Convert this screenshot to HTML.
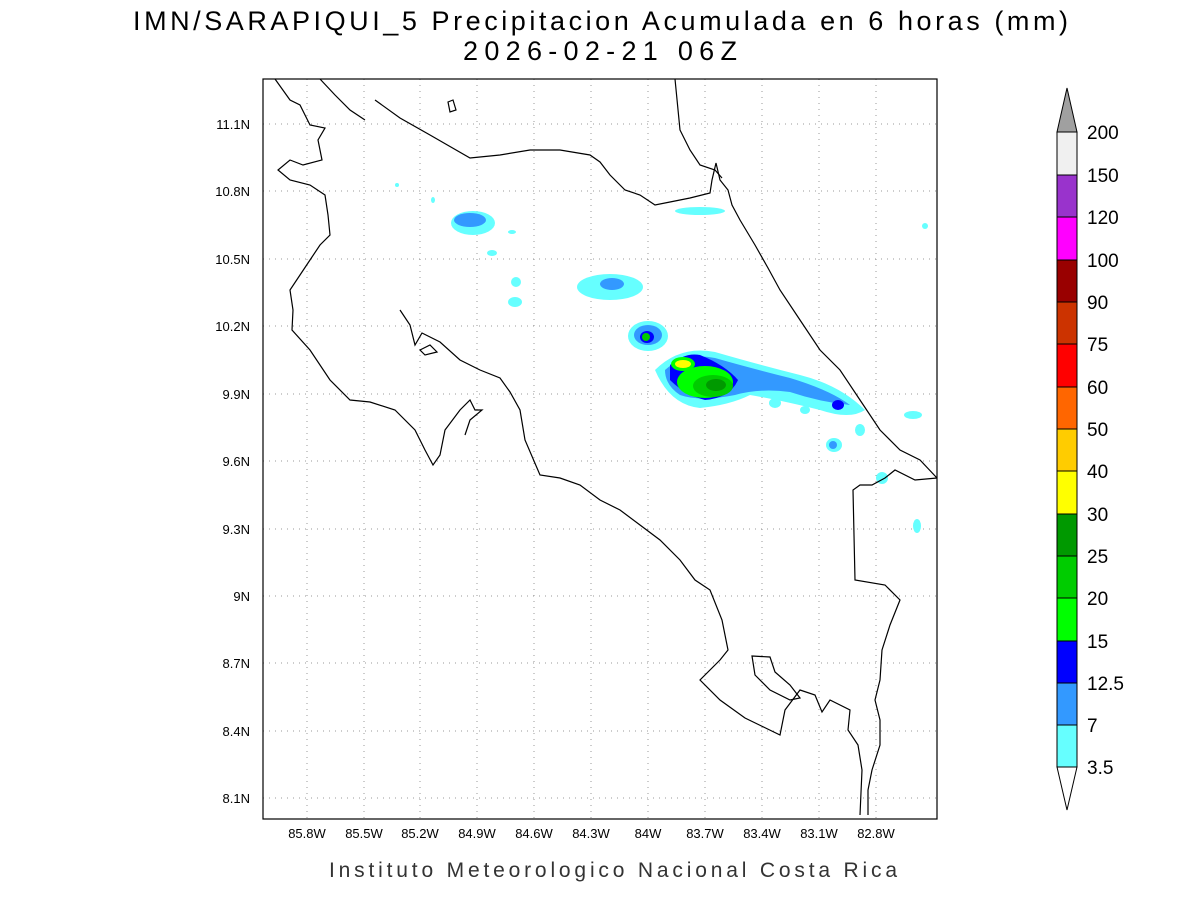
<!DOCTYPE html>
<html><head><meta charset="utf-8"><style>
body{margin:0;background:#fff;width:1200px;height:900px;overflow:hidden}
svg text{font-family:"Liberation Sans",sans-serif}
</style></head><body>
<svg width="1200" height="900" viewBox="0 0 1200 900" xmlns="http://www.w3.org/2000/svg">
<rect width="1200" height="900" fill="#fff"/>
<text x="133" y="30" font-size="27" textLength="935" lengthAdjust="spacing" fill="#000">IMN/SARAPIQUI_5 Precipitacion Acumulada en 6 horas (mm)</text>
<text x="463" y="60" font-size="27" textLength="274" lengthAdjust="spacing" fill="#000">2026-02-21 06Z</text>
<!-- grid -->
<g stroke="#999" stroke-width="1" stroke-dasharray="1,5">
<line x1="307" y1="79" x2="307" y2="819"/><line x1="364" y1="79" x2="364" y2="819"/><line x1="420" y1="79" x2="420" y2="819"/><line x1="477" y1="79" x2="477" y2="819"/><line x1="534" y1="79" x2="534" y2="819"/><line x1="591" y1="79" x2="591" y2="819"/><line x1="648" y1="79" x2="648" y2="819"/><line x1="705" y1="79" x2="705" y2="819"/><line x1="762" y1="79" x2="762" y2="819"/><line x1="819" y1="79" x2="819" y2="819"/><line x1="876" y1="79" x2="876" y2="819"/>
<line x1="263" y1="124" x2="937" y2="124"/><line x1="263" y1="191" x2="937" y2="191"/><line x1="263" y1="259" x2="937" y2="259"/><line x1="263" y1="326" x2="937" y2="326"/><line x1="263" y1="394" x2="937" y2="394"/><line x1="263" y1="461" x2="937" y2="461"/><line x1="263" y1="529" x2="937" y2="529"/><line x1="263" y1="596" x2="937" y2="596"/><line x1="263" y1="663" x2="937" y2="663"/><line x1="263" y1="731" x2="937" y2="731"/><line x1="263" y1="798" x2="937" y2="798"/>
</g>
<!-- precip -->
<g>
<ellipse cx="473" cy="223" rx="22" ry="12" fill="#66ffff"/><ellipse cx="470" cy="220" rx="16" ry="7" fill="#3399ff"/>
<ellipse cx="492" cy="253" rx="5" ry="3" fill="#66ffff"/><ellipse cx="515" cy="302" rx="7" ry="5" fill="#66ffff"/><ellipse cx="516" cy="282" rx="5" ry="5" fill="#66ffff"/>
<ellipse cx="700" cy="211" rx="25" ry="4" fill="#66ffff"/>
<ellipse cx="610" cy="287" rx="33" ry="13" fill="#66ffff"/><ellipse cx="612" cy="284" rx="12" ry="6" fill="#3399ff"/>
<ellipse cx="648" cy="336" rx="20" ry="15" fill="#66ffff"/><ellipse cx="648" cy="335" rx="14" ry="10" fill="#3399ff"/><ellipse cx="647" cy="337" rx="7" ry="6" fill="#0000ff"/><ellipse cx="646" cy="337" rx="4" ry="4" fill="#00cc00"/>
<path d="M655 370 Q680 345 715 352 Q760 365 800 375 Q840 385 865 410 Q850 420 820 410 Q780 400 750 395 Q730 405 700 408 Q670 405 655 370Z" fill="#66ffff"/>
<path d="M665 370 Q685 352 715 358 Q750 368 790 378 Q830 390 850 405 Q820 402 790 392 Q760 388 735 395 Q700 402 680 395 Q665 385 665 370Z" fill="#3399ff"/>
<path d="M670 365 Q685 352 700 355 Q725 365 738 380 Q730 398 705 400 Q685 395 670 380Z" fill="#0000ff"/>
<ellipse cx="705" cy="382" rx="28" ry="16" fill="#00ff00"/><ellipse cx="713" cy="386" rx="20" ry="11" fill="#00cc00"/><ellipse cx="716" cy="385" rx="10" ry="6" fill="#009900"/>
<ellipse cx="683" cy="364" rx="12" ry="7" fill="#00ff00"/><ellipse cx="683" cy="364" rx="8" ry="4" fill="#ffff00"/>
<ellipse cx="838" cy="405" rx="6" ry="5" fill="#0000ff"/>
<ellipse cx="834" cy="445" rx="8" ry="7" fill="#66ffff"/><ellipse cx="833" cy="445" rx="4" ry="4" fill="#3399ff"/>
<ellipse cx="860" cy="430" rx="5" ry="6" fill="#66ffff"/><ellipse cx="913" cy="415" rx="9" ry="4" fill="#66ffff"/>
<ellipse cx="882" cy="478" rx="6" ry="6" fill="#66ffff"/><ellipse cx="917" cy="526" rx="4" ry="7" fill="#66ffff"/>
<ellipse cx="775" cy="403" rx="6" ry="5" fill="#66ffff"/><ellipse cx="805" cy="410" rx="5" ry="4" fill="#66ffff"/>
<ellipse cx="433" cy="200" rx="2" ry="3" fill="#66ffff"/><ellipse cx="397" cy="185" rx="2" ry="2" fill="#66ffff"/>
<ellipse cx="512" cy="232" rx="4" ry="2" fill="#66ffff"/><ellipse cx="925" cy="226" rx="3" ry="3" fill="#66ffff"/>
</g>
<!-- coast -->
<g fill="none" stroke="#000" stroke-width="1.2">
<path d="M275 79 L290 100 L300 105 L310 125 L325 128 L318 140 L322 160 L303 165 L290 160 L278 170 L290 180 L310 185 L325 195 L328 215 L330 235 L320 245 L310 260 L300 275 L290 290 L293 310 L292 330 L310 350 L330 380 L350 400 L370 402 L395 410 L415 430 L425 450 L433 465 L440 455 L445 430 L460 410 L470 400 L475 410 L482 410 L470 420 L465 435"/>
<path d="M400 310 L410 325 L415 345 L422 333 L440 342 L460 360 L480 370 L500 378 L510 392 L520 410 L525 440 L540 475 L560 478 L580 485 L600 500 L620 510 L640 525 L660 540 L680 560 L695 580 L710 590 L722 620 L728 650 L720 660 L700 680 L720 700 L745 718 L780 735 L785 710 L800 690 L815 695 L822 712 L830 700 L850 710 L848 730 L858 745 L862 770 L860 815"/>
<path d="M868 815 L868 790 L872 770 L880 745 L880 720 L875 700 L880 680 L882 650 L890 625 L900 600 L885 585 L855 580 L853 490 L860 485 L872 485 L885 478 L895 470 L915 480 L937 478"/>
<path d="M937 478 L920 460 L900 450 L880 430 L860 400 L840 370 L820 350 L800 320 L780 290 L768 268 L755 245 L740 220 L732 205 L728 190 L720 180 L716 163 L712 180 L710 193 L690 198 L670 202 L655 205 L640 195 L625 190 L610 175 L600 162 L590 155 L560 150 L530 150 L500 155 L470 158 L430 135 L400 118 L375 100"/>
<path d="M320 79 L335 95 L350 110 L365 120"/>
<path d="M675 79 L680 130 L690 150 L700 165 L715 170 L722 178"/>
<path d="M752 656 L770 657 L775 672 L790 685 L800 698 L790 700 L770 690 L755 675 Z"/>
<path d="M420 350 L430 345 L437 352 L425 355 Z"/>
<path d="M448 102 L453 100 L456 110 L450 112 Z"/>
</g>
<rect x="263" y="79" width="674" height="740" fill="none" stroke="#000" stroke-width="1.2"/>
<!-- axis labels -->
<g font-size="13" fill="#000" text-anchor="end">
<text x="250" y="129">11.1N</text><text x="250" y="196">10.8N</text><text x="250" y="264">10.5N</text><text x="250" y="331">10.2N</text><text x="250" y="399">9.9N</text><text x="250" y="466">9.6N</text><text x="250" y="534">9.3N</text><text x="250" y="601">9N</text><text x="250" y="668">8.7N</text><text x="250" y="736">8.4N</text><text x="250" y="803">8.1N</text>
</g>
<g font-size="13" fill="#000" text-anchor="middle">
<text x="307" y="838">85.8W</text><text x="364" y="838">85.5W</text><text x="420" y="838">85.2W</text><text x="477" y="838">84.9W</text><text x="534" y="838">84.6W</text><text x="591" y="838">84.3W</text><text x="648" y="838">84W</text><text x="705" y="838">83.7W</text><text x="762" y="838">83.4W</text><text x="819" y="838">83.1W</text><text x="876" y="838">82.8W</text>
</g>
<text x="329" y="877" font-size="21" textLength="568" lengthAdjust="spacing" fill="#333">Instituto Meteorologico Nacional Costa Rica</text>
<!-- colorbar -->
<g stroke="#000" stroke-width="1">
<polygon points="1057,132 1077,132 1067,88" fill="#a0a0a0"/>
<rect x="1057" y="132" width="20" height="43" fill="#f0f0f0"/>
<rect x="1057" y="175" width="20" height="42" fill="#9933cc"/>
<rect x="1057" y="217" width="20" height="43" fill="#ff00ff"/>
<rect x="1057" y="260" width="20" height="42" fill="#990000"/>
<rect x="1057" y="302" width="20" height="42" fill="#cc3300"/>
<rect x="1057" y="344" width="20" height="43" fill="#ff0000"/>
<rect x="1057" y="387" width="20" height="42" fill="#ff6600"/>
<rect x="1057" y="429" width="20" height="42" fill="#ffcc00"/>
<rect x="1057" y="471" width="20" height="43" fill="#ffff00"/>
<rect x="1057" y="514" width="20" height="42" fill="#009900"/>
<rect x="1057" y="556" width="20" height="42" fill="#00cc00"/>
<rect x="1057" y="598" width="20" height="43" fill="#00ff00"/>
<rect x="1057" y="641" width="20" height="42" fill="#0000ff"/>
<rect x="1057" y="683" width="20" height="42" fill="#3399ff"/>
<rect x="1057" y="725" width="20" height="42" fill="#66ffff"/>
<polygon points="1057,767 1077,767 1067,810" fill="#fff"/>
</g>
<g font-size="19" fill="#000">
<text x="1087" y="139">200</text><text x="1087" y="182">150</text><text x="1087" y="224">120</text><text x="1087" y="267">100</text><text x="1087" y="309">90</text><text x="1087" y="351">75</text><text x="1087" y="394">60</text><text x="1087" y="436">50</text><text x="1087" y="478">40</text><text x="1087" y="521">30</text><text x="1087" y="563">25</text><text x="1087" y="605">20</text><text x="1087" y="648">15</text><text x="1087" y="690">12.5</text><text x="1087" y="732">7</text><text x="1087" y="774">3.5</text>
</g>
</svg>
</body></html>
